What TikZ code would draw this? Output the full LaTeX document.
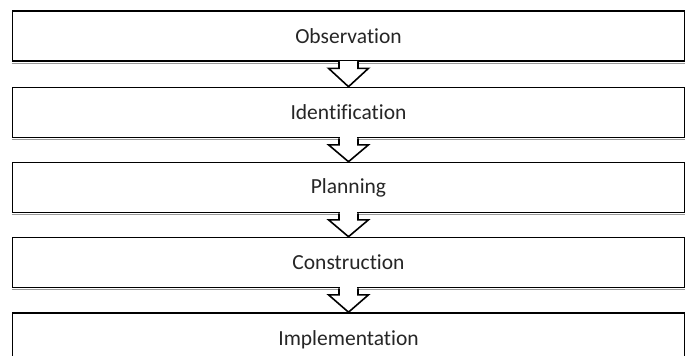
\documentclass[tikz,border=0pt]{standalone}
\usepackage{fontspec}
\setmainfont{Carlito}[Ligatures=NoCommon]
\usetikzlibrary{calc}
\tikzset{
  stagebox/.style={draw=black, line width=1.6pt, fill=white, minimum width=672pt, minimum height=50pt, inner sep=0pt, font=\fontsize{21.5}{25}\selectfont, text=black!85},
  blockarrow/.style={draw=black, line width=1.6pt, fill=white, line join=miter},
  boxshadow/.style={draw=black!40, line width=0.9pt}
}
\begin{document}
\begin{tikzpicture}[x=1pt,y=1pt]
\useasboundingbox (0,0) rectangle (689,-356);
\clip (0,0) rectangle (689,-356);
\node[stagebox] (b1) at (348.5,-36) {Observation};
\node[stagebox] (b2) at (348.5,-112.5) {Identification};
\node[stagebox] (b3) at (348.5,-187.5) {Planning};
\node[stagebox] (b4) at (348.5,-262.5) {Construction};
\node[stagebox, minimum height=54pt] (b5) at (348.5,-340) {Implementation};
\foreach \b in {b1,b2,b3,b4}{
  \draw[boxshadow] ([yshift=-1.2pt]\b.south west) -- ([yshift=-1.2pt]\b.south east);
}
\foreach \a/\b in {b1/b2,b2/b3,b3/b4,b4/b5}{
  \draw[blockarrow] ($(\a.south)+(-9.5,0)$) -- ++(0,-6.5) -- ++(-10.5,0) -- (\b.north)
    -- ($(\a.south)+(20,-6.5)$) -- ++(-10.5,0) -- ++(0,6.5);
  \fill[white] ($(\a.south)+(-8.7,0.9)$) rectangle ($(\a.south)+(8.7,-5.7)$);
}
\end{tikzpicture}
\end{document}
